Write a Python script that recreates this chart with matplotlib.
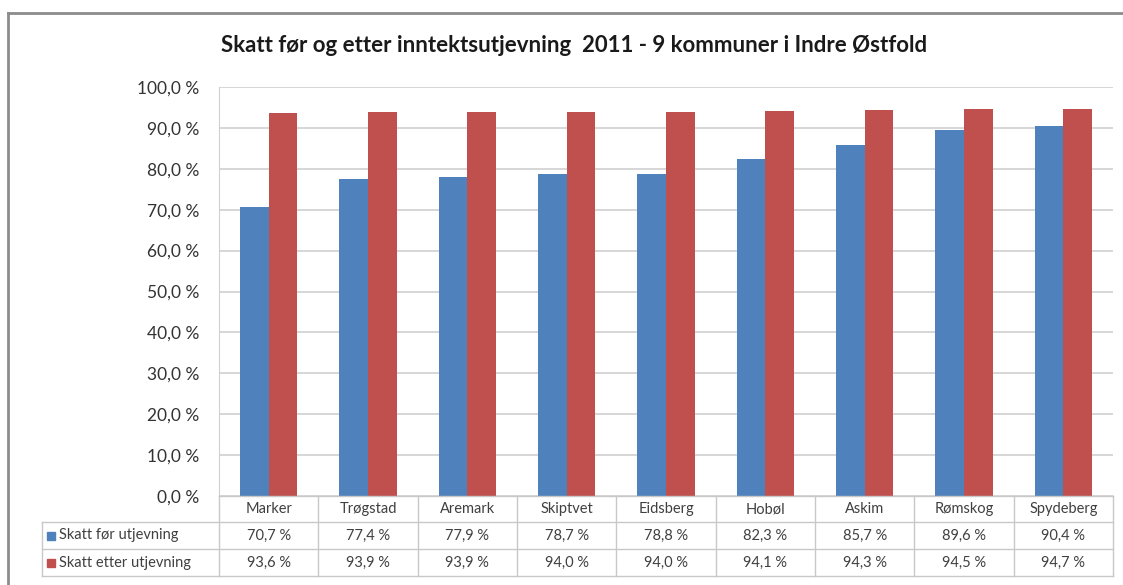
import matplotlib.pyplot as plt
import matplotlib.transforms as mtransforms
from matplotlib.lines import Line2D
from matplotlib.patches import Rectangle
import numpy as np

plt.rcParams['font.family'] = ['Lato', 'DejaVu Sans']

kommuner = ["Marker", "Trøgstad", "Aremark", "Skiptvet", "Eidsberg",
            "Hobøl", "Askim", "Rømskog", "Spydeberg"]
skatt_for = [70.7, 77.4, 77.9, 78.7, 78.8, 82.3, 85.7, 89.6, 90.4]
skatt_etter = [93.6, 93.9, 93.9, 94.0, 94.0, 94.1, 94.3, 94.5, 94.7]
serier = ["Skatt før utjevning", "Skatt etter utjevning"]
farger = ["#4F81BD", "#C0504D"]

W, H = 1123, 585
fig = plt.figure(figsize=(W / 100, H / 100), dpi=100)

# plot area in pixels
px_l, px_r, px_t, px_b = 219, 1113, 87, 496
ax = fig.add_axes([px_l / W, 1 - px_b / H, (px_r - px_l) / W, (px_b - px_t) / H])

x = np.arange(len(kommuner))
bw = 0.29
ax.bar(x - bw / 2, skatt_for, bw, color=farger[0], zorder=3)
ax.bar(x + bw / 2, skatt_etter, bw, color=farger[1], zorder=3)

ax.set_xlim(-0.5, len(kommuner) - 0.5)
ax.set_ylim(0, 100)
ax.set_yticks(np.arange(0, 101, 10))
ax.set_yticklabels([f"{v:.1f} %".replace(".", ",") for v in np.arange(0, 101, 10)],
                   fontsize=12.5, color="#333333")
ax.set_xticks([])
ax.tick_params(axis="y", length=0, pad=14)
ax.grid(axis="y", color="#d0d0d0", linewidth=1.2, zorder=0)
for s in ["top", "right", "bottom"]:
    ax.spines[s].set_visible(False)
ax.spines["left"].set_color("#d0d0d0")

fig.text(0.511, 1 - 45 / H, "Skatt før og etter inntektsutjevning  2011 - 9 kommuner i Indre Østfold",
         ha="center", va="center", fontsize=16, fontweight="bold", color="#1a1a1a")

# data table under the plot (x in data units, y in pixels from top)
trans = mtransforms.blended_transform_factory(ax.transData, fig.transFigure)
def fy(p):
    return 1 - p / H

rows_y = [496, 522, 549, 576]
col_px = (px_r - px_l) / len(kommuner)
lab_left = -0.5 - (px_l - 42) / col_px
lc = "#c8c8c8"
# horizontal lines
fig.add_artist(Line2D([-0.5, 8.5], [fy(rows_y[0]), fy(rows_y[0])], transform=trans, color=lc, lw=1))
for yy in rows_y[1:]:
    fig.add_artist(Line2D([lab_left, 8.5], [fy(yy), fy(yy)], transform=trans, color=lc, lw=1))
# vertical lines
for i in range(len(kommuner) + 1):
    fig.add_artist(Line2D([i - 0.5, i - 0.5], [fy(rows_y[0]), fy(rows_y[-1])], transform=trans, color=lc, lw=1))
fig.add_artist(Line2D([lab_left, lab_left], [fy(rows_y[1]), fy(rows_y[-1])], transform=trans, color=lc, lw=1))

for i, k in enumerate(kommuner):
    fig.text(i, fy((rows_y[0] + rows_y[1]) / 2), k, transform=trans, ha="center", va="center",
             fontsize=10.5, color="#404040")
    for r, vals in enumerate([skatt_for, skatt_etter]):
        fig.text(i, fy((rows_y[r + 1] + rows_y[r + 2]) / 2), f"{vals[i]:.1f} %".replace(".", ","),
                 transform=trans, ha="center", va="center", fontsize=10.5, color="#404040")

for r, (navn, farge) in enumerate(zip(serier, farger)):
    yc = (rows_y[r + 1] + rows_y[r + 2]) / 2
    fig.add_artist(Rectangle((47 / W, fy(yc + 4)), 8 / W, 8 / H, color=farge, transform=fig.transFigure))
    fig.text(59 / W, fy(yc), navn, ha="left", va="center", fontsize=10.5, color="#404040")

# outer frame (left and top edges)
fig.add_artist(Line2D([8 / W, 8 / W], [0, fy(13)], color="#8c8c8c", lw=2))
fig.add_artist(Line2D([8 / W, 1], [fy(13), fy(13)], color="#8c8c8c", lw=2))

fig.savefig("out.png", dpi=100)
